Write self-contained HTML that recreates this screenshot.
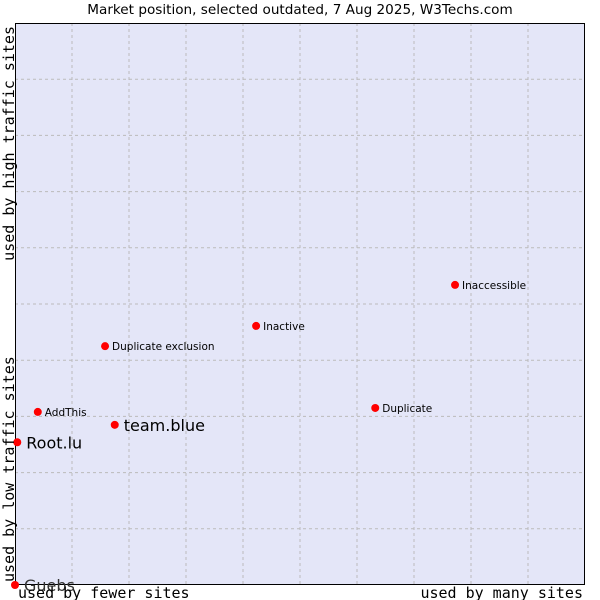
<!DOCTYPE html>
<html><head><meta charset="utf-8"><style>
body{margin:0;background:#fff}
svg{display:block}
</style></head><body>
<svg id="c" width="600" height="600" xmlns="http://www.w3.org/2000/svg">
<text x="300" y="14" text-anchor="middle" font-family="DejaVu Sans, sans-serif" font-size="13.6" fill="#000">Market position, selected outdated, 7 Aug 2025, W3Techs.com</text>
<rect x="15" y="23" width="570" height="562" fill="#e4e6f8" stroke="none"/>
<g id="grid"></g>
<rect x="15.5" y="23.5" width="569" height="561" fill="none" stroke="#000" stroke-width="1"/>
<g id="pts"></g>
<text x="18" y="598" font-family="DejaVu Sans Mono, monospace" font-size="15">used by fewer sites</text>
<text x="583" y="598" text-anchor="end" font-family="DejaVu Sans Mono, monospace" font-size="15">used by many sites</text>
<text transform="translate(14,582) rotate(-90)" font-family="DejaVu Sans Mono, monospace" font-size="15">used by low traffic sites</text>
<text transform="translate(14,26) rotate(-90)" text-anchor="end" font-family="DejaVu Sans Mono, monospace" font-size="15">used by high traffic sites</text>
</svg>
<script>
const names=["Guebs","Root.lu","team.blue","AddThis","Duplicate exclusion","Inactive","Inaccessible","Duplicate"];
const xVals=[0,0.04,1.75,0.4,1.58,4.23,7.72,6.32];
const yVals=[0,2.54,2.85,3.08,4.25,4.61,5.34,3.15];
const bigLabel=[true,true,true,false,false,false,false,false];
const gridTicks=[1,2,3,4,5,6,7,8,9];
const NS="http://www.w3.org/2000/svg";
const X=v=>15+57*v, Y=v=>585-56.2*v;
const g=document.getElementById('grid'), p=document.getElementById('pts');
gridTicks.forEach(t=>{
  let l=document.createElementNS(NS,'line');
  l.setAttribute('x1',X(t));l.setAttribute('x2',X(t));l.setAttribute('y1',23);l.setAttribute('y2',585);
  l.setAttribute('stroke','#bbb');l.setAttribute('stroke-dasharray','3,3');
  
  
  g.appendChild(l);
  let h=document.createElementNS(NS,'line');
  h.setAttribute('y1',Y(t));h.setAttribute('y2',Y(t));h.setAttribute('x1',15);h.setAttribute('x2',585);
  h.setAttribute('stroke','#bbb');h.setAttribute('stroke-dasharray','3,3');
  
  
  g.appendChild(h);
});
names.forEach((n,i)=>{
  const cx=X(xVals[i]), cy=Y(yVals[i]);
  let c=document.createElementNS(NS,'circle');
  c.setAttribute('cx',cx);c.setAttribute('cy',cy);c.setAttribute('r',4);c.setAttribute('fill','#f00');
  
  
  p.appendChild(c);
  let t=document.createElementNS(NS,'text');
  t.setAttribute('x',cx+(bigLabel[i]?9:7));t.setAttribute('y',cy+(bigLabel[i]?6:4));
  t.setAttribute('font-family','DejaVu Sans, sans-serif');
  t.setAttribute('font-size',bigLabel[i]?16:10.5);
  t.setAttribute('fill',i===0?'#333':'#000');
  t.textContent=n;
  
  
  p.appendChild(t);
});
</script>
</body></html>
